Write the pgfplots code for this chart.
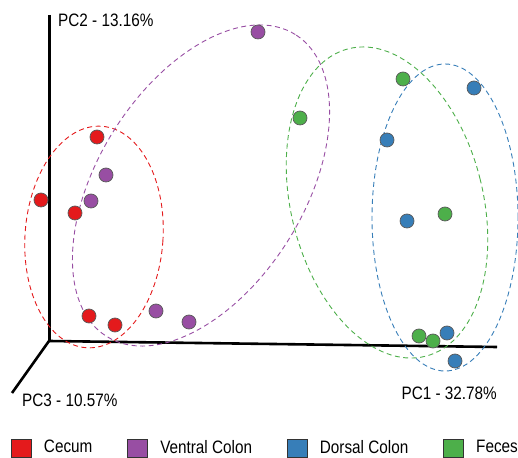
\documentclass[border=0pt]{standalone}
\usepackage{fontspec}
\setmainfont{Liberation Sans}[FakeStretch=0.85]
\usepackage{pgfplots}
\pgfplotsset{compat=1.18}
\definecolor{cecum}{HTML}{E41A1C}
\definecolor{ventral}{HTML}{984EA3}
\definecolor{dorsal}{HTML}{377EB8}
\definecolor{feces}{HTML}{4DAF4A}
\begin{document}
\fontsize{18}{20}\selectfont
\begin{tikzpicture}
\begin{axis}[
  scale only axis, width=518pt, height=457pt,
  xmin=0, xmax=518, ymin=0, ymax=457,
  hide axis, clip=false,
  legend columns=4,
  legend style={at={(axis cs:11,9)}, anchor=west, draw=none, fill=none, inner sep=0pt,
    font=\fontsize{18}{20}\selectfont,
    /tikz/every even column/.append style={column sep=35pt},
    /tikz/every odd column/.append style={column sep=12pt},
    nodes={inner sep=0pt}},
]
% axes
\addplot[black, line width=3pt, forget plot] coordinates {(49,442) (49,116)};
\addplot[black, line width=2.6pt, forget plot] coordinates {(49,116) (497,110)};
\addplot[black, line width=2.6pt, forget plot] coordinates {(49,116) (12,64)};
% ellipses
\draw[cecum, dash pattern=on 5pt off 3.5pt, line width=0.9pt] (axis cs:94,220) circle [x radius=69pt, y radius=111pt, rotate=-4];
\draw[ventral, dash pattern=on 5pt off 3.5pt, line width=0.9pt] (axis cs:201,271.5) circle [x radius=178pt, y radius=103pt, rotate=58];
\draw[feces, dash pattern=on 5pt off 3.5pt, line width=0.9pt] (axis cs:387,254.5) circle [x radius=96pt, y radius=158.5pt, rotate=14];
\draw[dorsal, dash pattern=on 5pt off 3.5pt, line width=0.9pt] (axis cs:445,239.5) circle [x radius=73pt, y radius=153.5pt];
% points
\addplot[only marks, mark=*, mark size=7pt, mark options={fill=cecum, draw=black!65, line width=0.7pt},
  legend image code/.code={\draw[fill=cecum, draw=black!80, line width=0.8pt] (0pt,-9pt) rectangle (20pt,9pt);}]
  coordinates {(97,320) (41,257) (75,244) (89,141) (115,132)};
\addlegendentry{Cecum}
\addplot[only marks, mark=*, mark size=7pt, mark options={fill=ventral, draw=black!65, line width=0.7pt},
  legend image code/.code={\draw[fill=ventral, draw=black!80, line width=0.8pt] (0pt,-9pt) rectangle (20pt,9pt);}]
  coordinates {(258,425) (106,282) (91,256) (156,146) (189,135)};
\addlegendentry{Ventral Colon}
\addplot[only marks, mark=*, mark size=7pt, mark options={fill=dorsal, draw=black!65, line width=0.7pt},
  legend image code/.code={\draw[fill=dorsal, draw=black!80, line width=0.8pt] (0pt,-9pt) rectangle (20pt,9pt);}]
  coordinates {(474,369) (387,317) (407,236) (447,124) (455,96)};
\addlegendentry{Dorsal Colon}
\addplot[only marks, mark=*, mark size=7pt, mark options={fill=feces, draw=black!65, line width=0.7pt},
  legend image code/.code={\draw[fill=feces, draw=black!80, line width=0.8pt] (0pt,-9pt) rectangle (20pt,9pt);}]
  coordinates {(403,378) (300,339) (445,243) (419,121) (433,116)};
\addlegendentry{Feces}
% labels
\node[anchor=west, inner sep=0pt] at (axis cs:58,437) {PC2 - 13.16\%};
\node[anchor=west, inner sep=0pt] at (axis cs:22,57) {PC3 - 10.57\%};
\node[anchor=east, inner sep=0pt] at (axis cs:497,64) {PC1 - 32.78\%};
\coordinate (A) at (axis cs:0,0);
\coordinate (B) at (axis cs:518,457);
\end{axis}
\pgfresetboundingbox
\path (A) rectangle (B);
\end{tikzpicture}
\end{document}
